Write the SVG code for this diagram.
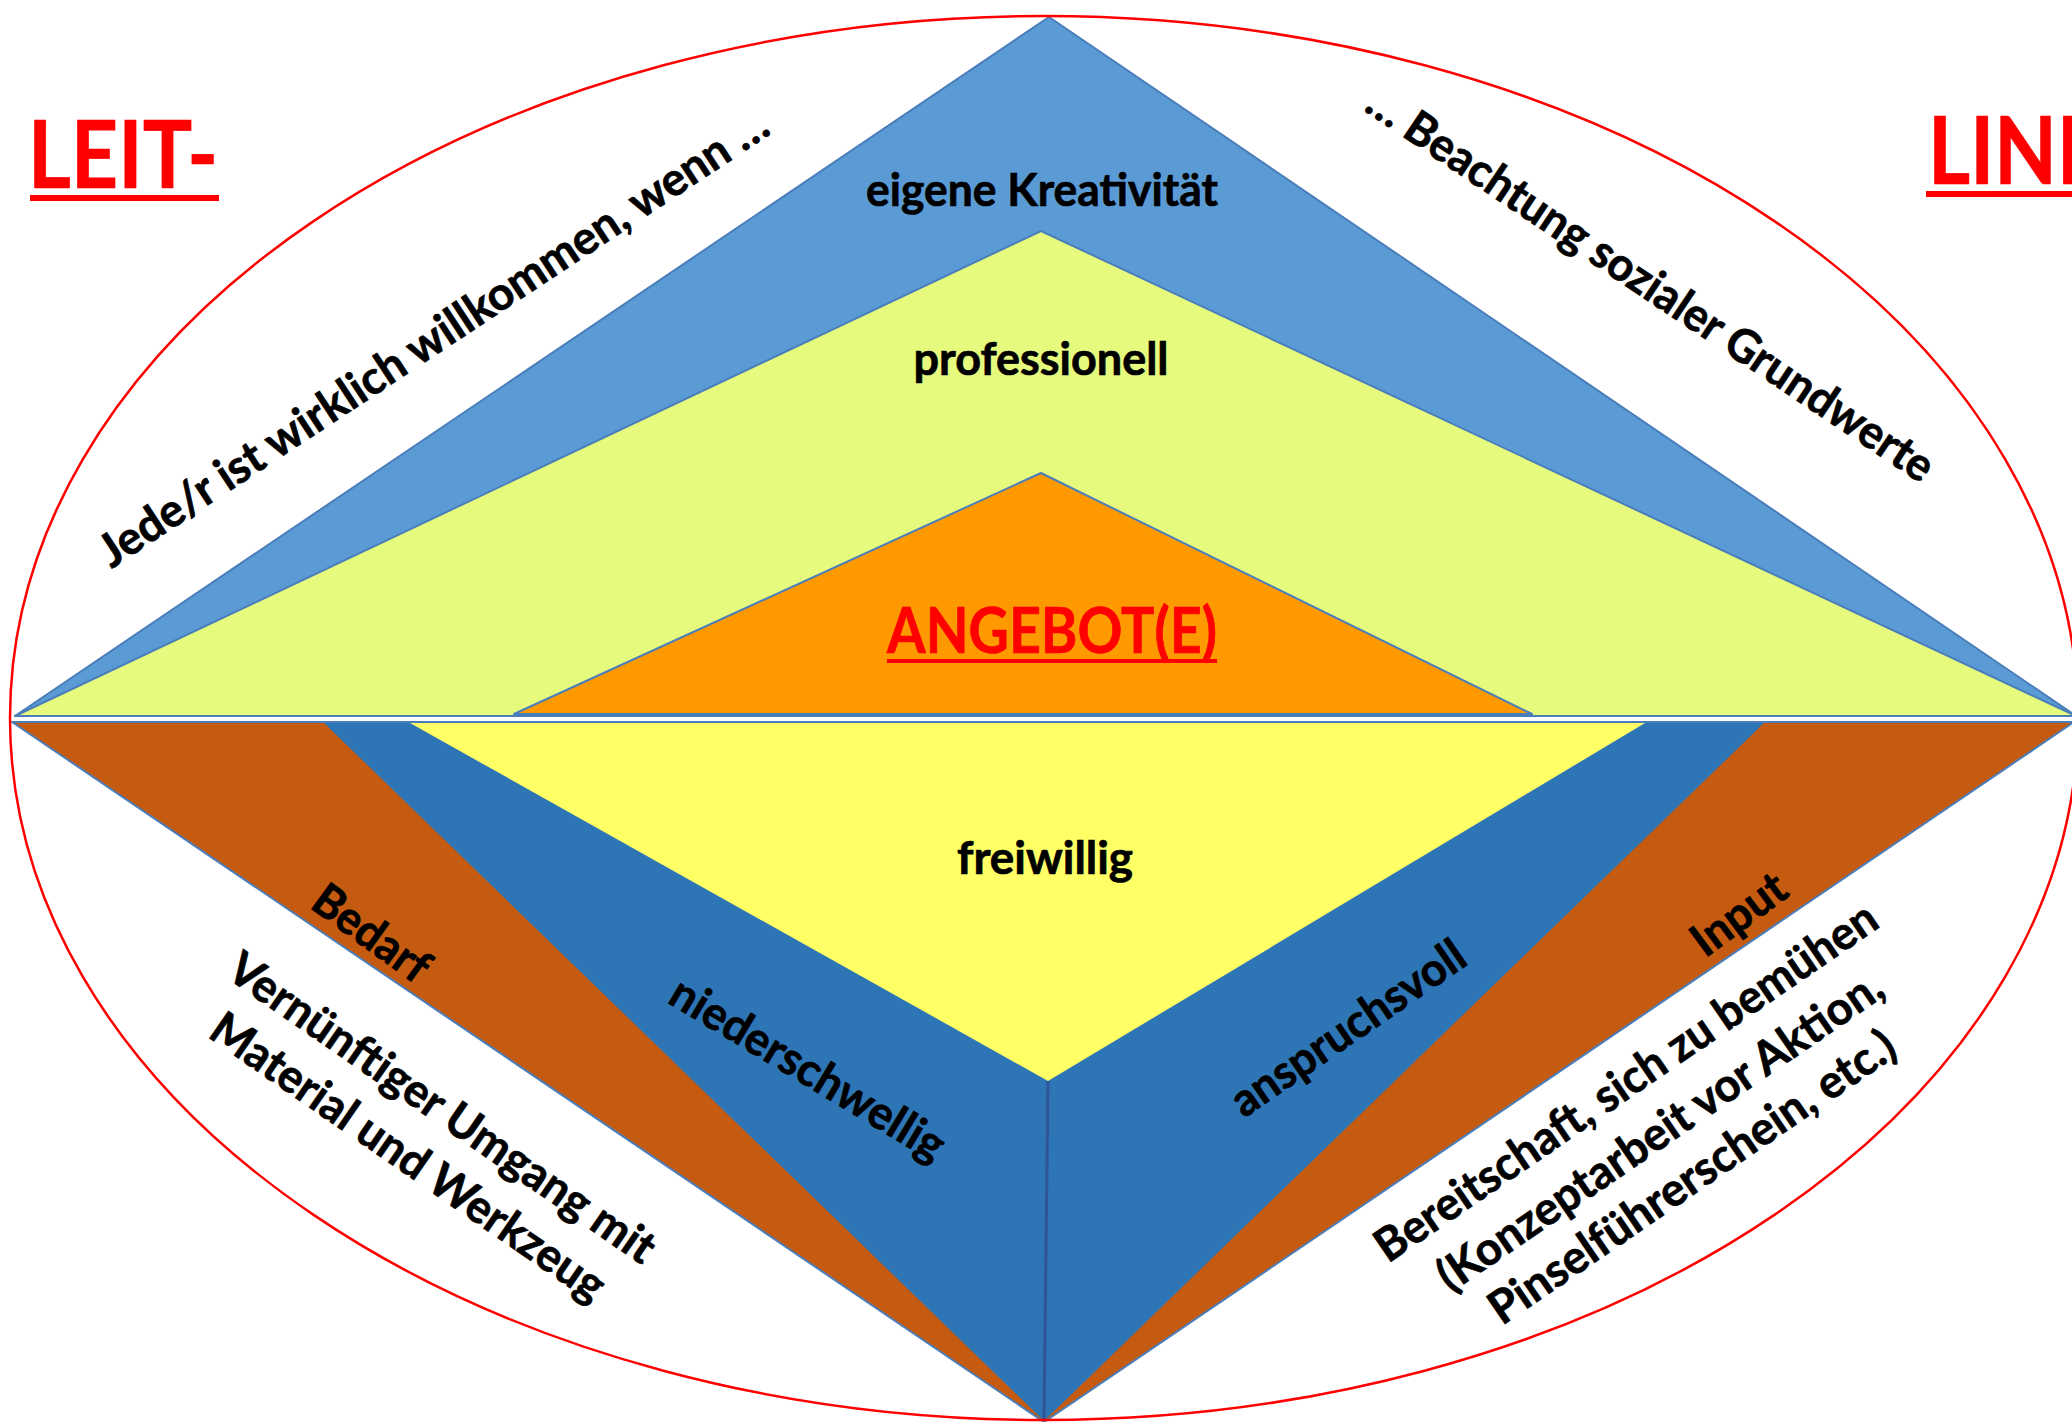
<svg xmlns="http://www.w3.org/2000/svg" width="2072" height="1422" viewBox="0 0 2072 1422">
<style>
.t{font-family:Lato,'Open Sans','Liberation Sans',sans-serif;font-weight:700;font-size:46px;fill:#000;stroke:#000;stroke-width:0.7;text-anchor:middle}
.red{fill:#FF0000;stroke:#FF0000}
.big{font-size:93px;text-anchor:start}
.mid{font-size:64px}
.edge{stroke:#4A7EBB;stroke-width:2;stroke-linejoin:round}
</style>
<rect width="2072" height="1422" fill="#FFFFFF"/>
<g id="upper-pyramid">
  <polygon id="top-blue" class="edge" points="15,716 1049,17 2076,716" fill="#5B9BD5"/>
  <polygon id="top-green" class="edge" points="15,716 1041,231 2076,716" fill="#E6FA7E"/>
  <polygon id="top-orange" class="edge" points="514,714 1041,473 1532,714" fill="#FF9900"/>
</g>
<g id="lower-pyramid">
  <polygon id="bottom-brown" class="edge" points="12,722 2074,722 1044,1422" fill="#C55A11"/>
  <polygon id="bottom-blue" points="324,723 1764,723 1044,1421" fill="#2E75B6"/>
  <polygon id="bottom-yellow" points="410,723 1645,723 1048,1081" fill="#FFFF66"/>
</g>
<g id="connectors">
  <line x1="1048" y1="1081" x2="1044" y2="1421" stroke="#2F5597" stroke-width="3"/>
</g>
<g id="frame">
  <ellipse cx="1044" cy="718" rx="1034" ry="702" fill="none" stroke="#FF0000" stroke-width="2.5"/>
</g>
<g id="title-left">
  <text class="t red big" x="28" y="188" textLength="190" lengthAdjust="spacingAndGlyphs">LEIT-</text>
  <rect x="30" y="195" width="189" height="6" fill="#FF0000"/>
</g>
<g id="title-right">
  <text class="t red big" x="1928" y="184" textLength="262" lengthAdjust="spacingAndGlyphs">LINIEN</text>
  <rect x="1926" y="191" width="146" height="6" fill="#FF0000"/>
</g>
<g id="node-kreativitaet">
  <text class="t" x="1042" y="206" textLength="352" lengthAdjust="spacingAndGlyphs">eigene Kreativität</text>
</g>
<g id="node-professionell">
  <text class="t" x="1041" y="375" textLength="255" lengthAdjust="spacingAndGlyphs">professionell</text>
</g>
<g id="node-angebot">
  <text class="t red mid" x="1052" y="653" textLength="330" lengthAdjust="spacingAndGlyphs">ANGEBOT(E)</text>
  <rect x="887" y="659" width="330" height="4" fill="#FF0000"/>
</g>
<g id="node-freiwillig">
  <text class="t" x="1045" y="874" textLength="176" lengthAdjust="spacingAndGlyphs">freiwillig</text>
</g>
<g id="node-willkommen">
  <text class="t" transform="translate(442,351) rotate(-33.4)" textLength="792" lengthAdjust="spacingAndGlyphs">Jede/r ist wirklich willkommen, wenn …</text>
</g>
<g id="node-grundwerte">
  <text class="t" transform="translate(1642,297) rotate(33.8)" textLength="672" lengthAdjust="spacingAndGlyphs">… Beachtung sozialer Grundwerte</text>
</g>
<g id="node-bedarf">
  <text class="t" transform="translate(371,934) rotate(36)" y="15" textLength="133" lengthAdjust="spacingAndGlyphs">Bedarf</text>
</g>
<g id="node-umgang">
  <text class="t" transform="translate(440,1111) rotate(34.7)" y="12" textLength="508" lengthAdjust="spacingAndGlyphs">Vernünftiger Umgang mit</text>
  <text class="t" transform="translate(406,1160) rotate(34.7)" y="12" textLength="469" lengthAdjust="spacingAndGlyphs">Material und Werkzeug</text>
</g>
<g id="node-niederschwellig">
  <text class="t" transform="translate(806,1072) rotate(31)" y="12" textLength="312" lengthAdjust="spacingAndGlyphs">niederschwellig</text>
</g>
<g id="node-anspruchsvoll">
  <text class="t" transform="translate(1350,1031) rotate(-34.5)" y="12" textLength="274" lengthAdjust="spacingAndGlyphs">anspruchsvoll</text>
</g>
<g id="node-input">
  <text class="t" transform="translate(1741,917) rotate(-36.5)" y="12" textLength="107" lengthAdjust="spacingAndGlyphs">Input</text>
</g>
<g id="node-bereitschaft">
  <text class="t" transform="translate(1628,1085) rotate(-34.4)" y="12" textLength="598" lengthAdjust="spacingAndGlyphs">Bereitschaft, sich zu bemühen</text>
  <text class="t" transform="translate(1662,1134) rotate(-34.4)" y="12" textLength="529" lengthAdjust="spacingAndGlyphs">(Konzeptarbeit vor Aktion,</text>
  <text class="t" transform="translate(1694,1180) rotate(-34.4)" y="12" textLength="482" lengthAdjust="spacingAndGlyphs">Pinselführerschein, etc.)</text>
</g>
</svg>
